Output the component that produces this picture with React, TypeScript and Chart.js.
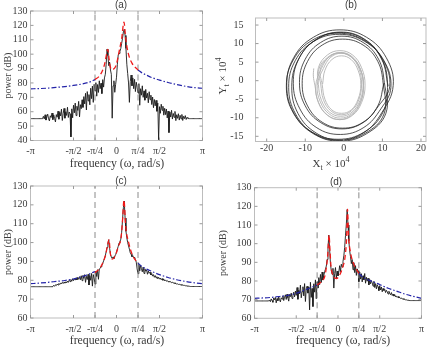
import React, { useEffect, useRef } from "react";
import { Chart, registerables } from "chart.js";
Chart.register(...registerables);

const W = 429;
const H = 347;
const SERIF = "'Liberation Serif', 'Times New Roman', serif";
const SANS = "'Liberation Sans', Arial, sans-serif";
const TEXT = "#3c3c3c";

// ---------- axis ticks ----------
const freqTicks = [-1, -0.5, -0.25, 0, 0.25, 0.5, 1]; // in units of pi
const freqTickLabels = ["-π", "-π/2", "-π/4", "0", "π/4", "π/2", "π"];
const powerTicksA = [40, 50, 60, 70, 80, 90, 100, 110, 120, 130];
const powerTicksCD = [60, 70, 80, 90, 100, 110, 120, 130];
const orbitXTicks = [-20, -10, 0, 10, 20];
const orbitYTicks = [-15, -10, -5, 0, 5, 10, 15];
const cutoffFreqs = [-0.25, 0.25];

// sample frequencies of the periodograms (units of pi), step 0.01
const freqGrid: number[] = Array.from({ length: 201 }, (_, i) => Math.round(-100 + i) / 100);

// ---------- panel (a) ----------
const powerA = [
  55.2, 55.2, 55.2, 55.2, 55.2, 55.2, 55.2, 55.2, 55.2, 55.2, 55.2, 55.2, 55.2, 55.2, 55.2,
  56.8, 55.0, 57.9, 54.2, 56.5, 58.3, 55.1, 53.6, 57.2, 56.0, 59.1, 54.5, 57.8, 55.3, 52.9, 58.0,
  56.2, 60.4, 54.8, 59.6, 57.1, 61.8, 53.9, 58.7, 62.3, 55.5, 60.0, 57.4, 63.1, 56.0, 59.8,
  58.5, 42.5, 62.0, 55.8, 64.5, 59.2, 66.0, 57.3, 63.8, 60.9, 67.2, 56.4, 64.9, 62.1, 68.3,
  63.0, 70.5, 65.4, 72.8, 61.2, 74.0, 67.5, 71.9, 64.8, 76.3, 69.1, 77.8, 66.5, 79.0,
  74.5, 80.2, 70.8, 78.9, 73.4, 81.5, 76.0, 79.8, 72.6, 82.3, 77.1,
  83.5, 86.0, 93.0, 103.5, 99.0, 92.0, 94.5, 89.0, 86.0, 55.5, 78.0, 81.5, 73.5, 79.0,
  84.0,
  93.0, 99.5, 100.5, 102.0, 104.0, 107.5, 111.0, 115.5, 117.3, 113.0, 104.0, 93.0, 86.5, 80.0, 66.5,
  81.0, 85.5, 78.0, 83.5, 76.0, 82.5, 74.0, 80.5, 77.0, 73.0,
  79.5, 64.5, 76.0, 71.5, 78.0, 70.0, 74.5, 68.0, 75.5, 69.5, 72.8, 66.2, 73.9, 68.4, 71.5,
  65.0, 70.2, 62.8, 68.5, 64.1, 67.9, 60.3, 66.0, 40.5, 63.5, 58.9, 65.2, 61.0, 63.8, 57.6,
  62.4, 58.0, 61.9, 55.7, 60.5, 45.5, 59.8, 56.3, 61.0, 54.9, 58.8, 56.1, 60.2, 53.8, 57.9,
  55.4, 58.6, 54.2, 57.5, 55.0, 58.1, 53.9, 56.8, 55.2, 57.3, 54.6, 56.0, 55.4,
  55.2, 55.2, 55.2, 55.2, 55.2, 55.2, 55.2, 55.2, 55.2, 55.2, 55.2, 55.2, 55.2, 55.2, 55.2, 55.2, 55.2,
];
const blueFreq = [-1, -0.9, -0.8, -0.7, -0.6, -0.5, -0.4, -0.35, -0.3, -0.25, 0, 0.25, 0.3, 0.35, 0.4, 0.5, 0.6, 0.7, 0.8, 0.9, 1];
const bluePowerA = [75.9, 76.1, 76.4, 76.9, 77.5, 78.3, 79.3, 80.0, 80.9, 82.3, null, 89.0, 86.9, 85.4, 84.0, 82.0, 80.3, 78.9, 77.7, 76.8, 76.3];
const redFreqA = [-0.25, -0.2, -0.16, -0.135, -0.118, -0.102, -0.087, -0.072, -0.05, -0.02, 0.0, 0.03, 0.06, 0.087, 0.107, 0.137, 0.18, 0.25];
const redPowerA = [82.3, 84.8, 89.0, 94.0, 99.3, 103.3, 97.0, 91.2, 89.3, 90.5, 93.2, 101.8, 110.9, 122.3, 110.9, 100.5, 93.8, 89.0];

// ---------- panel (c) ----------
const powerC = [
  76.6, 76.6, 76.6, 76.6, 76.6, 76.6, 76.6, 76.6, 76.6, 76.6, 76.6, 76.6, 76.6, 76.6, 76.6, 76.6, 76.6, 76.6, 76.6, 76.6, 76.6, 76.6, 76.6, 76.6, 76.6, 76.6,
  76.9, 77.3, 76.8, 77.6, 77.2, 78.0, 77.5, 78.3, 77.8, 78.6, 78.1, 78.9, 78.3, 79.0, 78.5,
  79.2, 78.6, 79.6, 78.9, 80.0, 79.3, 80.4, 79.5, 80.8, 79.8, 81.0, 80.1, 81.3, 80.2, 81.6,
  80.5, 81.9, 80.3, 82.4, 79.8, 82.6, 81.0, 83.0, 78.9, 82.1, 80.4, 83.2, 77.5, 82.5, 80.0,
  83.6, 76.9, 83.0, 81.2, 78.0, 84.8, 82.0, 85.6, 80.5, 86.0,
  86.3, 87.2, 88.0, 88.9, 90.3, 91.6, 93.0, 95.2, 97.4, 99.6, 101.5, 97.0, 93.8, 92.3, 91.6, 92.4, 91.5, 92.8, 93.6, 95.0,
  96.5, 98.0, 99.8, 100.5, 101.8, 105.5, 112.0, 118.5, 122.0, 113.0, 106.0, 102.5, 100.0, 98.2, 96.5, 94.6, 93.8, 92.5, 93.0, 91.8, 92.3, 91.0, 89.6, 86.0, 83.5,
  88.6, 85.0, 87.9, 86.2, 84.5, 87.0, 83.6, 86.1, 84.8, 85.5, 83.2, 84.9, 83.7, 84.3, 82.8,
  83.5, 82.2, 83.0, 81.6, 82.5, 81.3, 81.9, 80.8, 81.6, 80.6, 81.2, 80.3, 80.9, 80.0, 80.6,
  79.7, 80.2, 79.5, 79.9, 79.2, 79.6, 79.0, 79.3, 78.7, 79.0, 78.5, 78.7, 78.2, 78.4, 78.0,
  78.1, 77.8, 77.9, 77.6, 77.7, 77.4, 77.5, 77.3, 77.3, 77.1, 77.1, 77.0, 76.9, 76.9, 76.8,
  76.7, 76.7, 76.7, 76.7, 76.7, 76.7, 76.7, 76.7, 76.7, 76.7, 76.7, 76.7, 76.7, 76.7, 76.7,
];
const bluePowerC = [78.2, 78.5, 78.9, 79.4, 79.9, 80.7, 81.9, 82.7, 83.6, 84.7, null, 89.1, 87.2, 85.9, 84.9, 83.0, 81.5, 80.3, 79.4, 78.7, 78.2];
const redFreqC = [-0.25, -0.192, -0.153, -0.126, -0.103, -0.087, -0.072, -0.049, -0.01, 0.021, 0.052, 0.068, 0.087, 0.107, 0.138, 0.184, 0.25];
const redPowerC = [84.0, 86.5, 90.0, 93.5, 98.8, 101.5, 94.4, 91.2, 93.5, 97.9, 102.3, 110.3, 122.5, 108.5, 100.6, 93.5, 89.0];

// ---------- panel (d) ----------
const powerD = [
  69.3, 69.3, 69.3, 69.3, 69.3, 69.3, 69.3, 69.3, 69.3, 69.3, 69.3, 69.3, 69.3, 69.3, 69.3, 69.3, 69.3, 69.3,
  69.8, 68.9, 70.4, 69.5, 68.6, 70.9, 69.9, 71.2, 68.3, 70.6, 69.4, 71.5, 70.0, 68.8, 71.0,
  70.3, 72.0, 69.5, 71.3, 72.6, 70.1, 73.0, 71.0, 69.2, 72.8, 71.6, 73.5, 70.6, 72.2, 74.0,
  71.5, 74.6, 72.3, 76.5, 70.2, 75.0, 73.1, 77.8, 71.0, 74.3, 76.9, 72.0, 78.6, 69.0, 75.8,
  77.2, 73.5, 76.8, 64.5, 79.3, 71.2, 76.0, 66.3, 78.5, 74.0, 80.6, 70.5, 79.6,
  76.2, 81.8, 78.0, 83.5, 79.2, 84.8, 80.5, 82.9, 85.0, 86.3,
  88.0, 91.5, 97.5, 104.6, 97.0, 89.0, 85.5,
  83.6, 86.8, 76.2, 84.0, 87.2, 81.5, 85.3, 82.7,
  84.8, 88.2, 85.0, 89.0, 87.5, 90.5, 93.5, 98.0, 104.5, 110.5, 118.3,
  110.0, 101.5, 96.2, 93.0, 89.3, 91.5, 86.0, 89.8, 84.5, 88.2, 83.0, 86.5, 85.5, 79.6,
  84.8, 81.0, 83.9, 79.5, 82.8, 80.6, 84.0, 78.8, 82.0, 79.9, 81.5, 77.9, 80.8, 78.5, 80.2,
  79.0, 77.2, 79.8, 76.5, 78.6, 75.8, 78.0, 76.9, 74.8, 77.5, 75.2, 76.8, 74.2, 76.0, 74.9,
  75.5, 73.8, 75.0, 74.2, 73.0, 74.5, 73.3, 72.6, 73.8, 72.2, 73.0, 71.9, 72.6, 71.5, 72.0,
  71.2, 71.7, 70.9, 71.2, 70.6, 70.9, 70.3, 70.5, 70.1, 70.2, 69.9, 69.9, 69.7, 69.7, 69.6,
  69.5, 69.5, 69.5, 69.5, 69.5, 69.5, 69.5, 69.5, 69.5, 69.5, 69.5, 69.5, 69.5, 69.5, 69.5,
];
const bluePowerD = [70.7, 70.9, 71.2, 71.7, 72.3, 73.4, 75.1, 76.0, 76.9, 77.8, null, 84.1, 82.0, 80.8, 79.9, 78.1, 76.1, 74.6, 73.0, 71.8, 70.7];
const redFreqD = [-0.25, -0.2, -0.16, -0.138, -0.122, -0.107, -0.095, -0.083, -0.06, -0.019, 0.019, 0.058, 0.085, 0.104, 0.114, 0.126, 0.148, 0.194, 0.25];
const redPowerD = [77.8, 79.6, 82.3, 87.6, 94.5, 104.6, 95.5, 87.6, 83.1, 81.3, 83.1, 87.6, 93.0, 104.0, 118.5, 104.5, 95.7, 88.5, 84.1];

// ---------- panel (b): orbits (units of 1e4) ----------
const orbitBlackX = [
  11.5, 9.8, 5.3, -1.0, -7.3, -11.8, -13.5, -11.9, -7.2, -1.0, 5.2, 9.8,
  12.8, 11.0, 5.9, -1.0, -7.9, -13.0, -14.8, -12.9, -7.9, -1.0, 5.9, 10.9,
  10.5, 9.0, 5.0, -0.5, -6.0, -10.0, -11.5, -10.0, -6.0, -0.5, 5.0, 9.0,
  11.9, 10.1, 5.2, -1.5, -8.2, -13.1, -14.9, -13.1, -8.2, -1.5, 5.2, 10.1,
  11.3, 9.7, 5.2, -0.9, -7.0, -11.5, -13.1, -11.4, -7.0, -0.9, 5.2, 9.6,
  12.2, 10.4, 5.4, -1.2, -7.8, -12.6, -14.3, -12.5, -7.8, -1.2, 5.5, 10.4,
  10.2, 8.8, 5.0, -0.3, -5.6, -9.4, -10.8, -9.4, -5.6, -0.3, 5.0, 8.8, 10.4,
];
const orbitBlackY = [
  -1.5, 5.8, 11.1, 13.0, 11.0, 5.7, -1.5, -8.8, -14.1, -16.0, -14.0, -8.7,
  -1.3, 6.2, 11.7, 13.7, 11.7, 6.2, -1.3, -8.8, -14.3, -16.3, -14.3, -8.8,
  -0.5, 5.8, 10.3, 12.0, 10.3, 5.8, -0.5, -6.8, -11.3, -13.0, -11.3, -6.8,
  -1.5, 5.7, 10.9, 12.8, 10.9, 5.6, -1.5, -8.7, -13.9, -15.8, -13.9, -8.6,
  -0.7, 6.2, 11.3, 13.1, 11.2, 6.2, -0.7, -7.6, -12.7, -14.5, -12.6, -7.6,
  -1.8, 5.4, 10.6, 12.5, 10.6, 5.4, -1.8, -9.0, -14.2, -16.1, -14.2, -9.0,
  -0.8, 5.2, 9.6, 11.2, 9.6, 5.2, -0.8, -6.8, -11.2, -12.8, -11.2, -6.8, -0.6,
];
const orbitGrayX = [
  -7.8, -7.9,
  -7.5, -6.6, -4.3, -1.0, 2.3, 4.6, 5.5, 4.6, 2.3, -1.0, -4.3, -6.6,
  -6.6, -5.8, -3.7, -0.8, 2.1, 4.2, 5.0, 4.2, 2.1, -0.8, -3.7, -5.8,
  -7.3, -6.5, -4.2, -1.1, 2.0, 4.3, 5.1, 4.3, 2.0, -1.1, -4.2, -6.5,
  -6.0, -5.3, -3.4, -0.7, 2.0, 3.9, 4.6, 3.9, 2.0, -0.7, -3.4, -5.3,
  -6.9, -6.1, -3.9, -0.9, 2.1, 4.3, 5.1, 4.3, 2.1, -0.9, -3.9, -6.1,
  -5.6, -4.9, -3.1, -0.6, 1.9, 3.7, 4.4, 3.7, 1.9, -0.6, -3.1, -4.9, -5.5,
];
const orbitGrayY = [
  3.3, 1.2,
  -1.2, -5.9, -9.3, -10.5, -9.3, -5.9, -1.2, 3.5, 6.9, 8.1, 6.9, 3.5,
  -1.0, -5.3, -8.5, -9.6, -8.5, -5.3, -1.0, 3.3, 6.5, 7.6, 6.5, 3.3,
  -1.5, -6.0, -9.3, -10.5, -9.3, -6.0, -1.5, 3.0, 6.3, 7.5, 6.3, 3.0,
  -0.9, -5.1, -8.1, -9.2, -8.1, -5.1, -0.9, 3.3, 6.3, 7.4, 6.3, 3.3,
  -1.3, -5.7, -8.9, -10.1, -8.9, -5.7, -1.3, 3.1, 6.3, 7.5, 6.3, 3.1,
  -1.1, -5.0, -7.9, -8.8, -7.9, -5.0, -1.1, 2.8, 5.7, 6.7, 5.7, 2.8, -0.9,
];

// ---------- helpers ----------
type Area = { l: number; r: number; t: number; b: number };
const zip = (xs: number[], ys: (number | null)[]) => xs.map((x, i) => ({ x, y: ys[i] }));

const boxPlugin = {
  id: "matlabBox",
  afterDatasetsDraw(chart: any) {
    const { ctx, chartArea: a, scales } = chart;
    ctx.save();
    ctx.strokeStyle = "#bdbdbd";
    ctx.lineWidth = 1;
    ctx.strokeRect(a.left, a.top, a.right - a.left, a.bottom - a.top);
    ctx.strokeStyle = "#9a9a9a";
    ctx.beginPath();
    scales.x.ticks.forEach((t: any) => {
      const p = scales.x.getPixelForValue(t.value);
      ctx.moveTo(p, a.bottom); ctx.lineTo(p, a.bottom - 3);
      ctx.moveTo(p, a.top); ctx.lineTo(p, a.top + 3);
    });
    scales.y.ticks.forEach((t: any) => {
      const p = scales.y.getPixelForValue(t.value);
      ctx.moveTo(a.left, p); ctx.lineTo(a.left + 3, p);
      ctx.moveTo(a.right, p); ctx.lineTo(a.right - 3, p);
    });
    ctx.stroke();
    ctx.restore();
  },
};

function textPlugin(draw: (ctx: CanvasRenderingContext2D) => void) {
  return {
    id: "panelTexts",
    afterDraw(chart: any) {
      const ctx = chart.ctx as CanvasRenderingContext2D;
      ctx.save();
      draw(ctx);
      ctx.restore();
    },
  };
}

function label(ctx: CanvasRenderingContext2D, text: string, x: number, y: number, font: string, rot = 0) {
  ctx.save();
  ctx.translate(x, y);
  ctx.rotate(rot);
  ctx.font = font;
  ctx.fillStyle = TEXT;
  ctx.textAlign = "center";
  ctx.textBaseline = "middle";
  ctx.fillText(text, 0, 0);
  ctx.restore();
}

type Part = { t: string; size: number; dy: number };
function richLabel(ctx: CanvasRenderingContext2D, parts: Part[], x: number, y: number, rot = 0) {
  ctx.save();
  ctx.translate(x, y);
  ctx.rotate(rot);
  ctx.fillStyle = TEXT;
  ctx.textAlign = "left";
  ctx.textBaseline = "alphabetic";
  let total = 0;
  const widths = parts.map((p) => {
    ctx.font = `${p.size}px ${SERIF}`;
    const w = ctx.measureText(p.t).width;
    total += w;
    return w;
  });
  let cx = -total / 2;
  parts.forEach((p, i) => {
    ctx.font = `${p.size}px ${SERIF}`;
    ctx.fillText(p.t, cx, 4 + p.dy);
    cx += widths[i];
  });
  ctx.restore();
}

// The scale box spans from the canvas edge to the plot edge, so labels are not clipped.
function axisCommon(area: Area, horizontal: boolean, ticks: number[], labels: string[] | null, min: number, max: number, pad: number) {
  return {
    type: "linear",
    min,
    max,
    grid: { display: false, drawTicks: false },
    border: { display: false },
    afterFit: (s: any) => {
      if (horizontal) s.height = H - area.b;
      else s.width = area.l;
    },
    afterBuildTicks: (s: any) => {
      s.ticks = ticks.map((v) => ({ value: v }));
    },
    ticks: {
      autoSkip: false,
      maxRotation: 0,
      minRotation: 0,
      padding: pad,
      color: TEXT,
      font: { family: SERIF, size: 10 },
      callback: (v: number) => {
        if (labels) {
          const i = ticks.findIndex((t) => Math.abs(t - v) < 1e-9);
          return i >= 0 ? labels[i] : "";
        }
        return String(v);
      },
    },
  };
}

function baseOptions(area: Area) {
  return {
    responsive: false,
    animation: false,
    devicePixelRatio: 1,
    events: [],
    layout: { padding: { left: 0, right: W - area.r, top: area.t, bottom: 0 } },
    plugins: { legend: { display: false }, tooltip: { enabled: false }, title: { display: false } },
  };
}

function spectrumConfig(
  area: Area,
  yTicks: number[],
  black: number[],
  blue: (number | null)[],
  redX: number[],
  redY: number[],
  ymin: number,
  ymax: number,
  texts: (ctx: CanvasRenderingContext2D) => void
) {
  const cutoffSets = cutoffFreqs.map((f) => ({
    data: [{ x: f, y: ymin }, { x: f, y: ymax }],
    showLine: true,
    borderColor: "#8a8a8a",
    borderWidth: 1,
    borderDash: [6, 4],
    pointRadius: 0,
    order: 2,
  }));
  return {
    type: "scatter",
    data: {
      datasets: [
        {
          data: zip(redX, redY),
          showLine: true,
          borderColor: "#f01818",
          borderWidth: 1.3,
          borderDash: [5, 3],
          pointRadius: 0,
          cubicInterpolationMode: "monotone",
          order: 0,
        },
        {
          data: zip(blueFreq, blue),
          showLine: true,
          spanGaps: false,
          borderColor: "#2424a8",
          borderWidth: 1.2,
          borderDash: [5, 2, 1.5, 2],
          pointRadius: 0,
          cubicInterpolationMode: "monotone",
          order: 1,
        },
        ...cutoffSets,
        {
          data: zip(freqGrid, black),
          showLine: true,
          borderColor: "#1b1b1b",
          borderWidth: 0.9,
          pointRadius: 0,
          tension: 0,
          order: 3,
        },
      ],
    },
    options: {
      ...baseOptions(area),
      scales: {
        x: axisCommon(area, true, freqTicks, freqTickLabels, -1, 1, 5),
        y: axisCommon(area, false, yTicks, null, ymin, ymax, 3),
      },
    },
    plugins: [boxPlugin, textPlugin(texts)],
  };
}

const areaA: Area = { l: 30.5, r: 202.5, t: 11, b: 140.5 };
const areaB: Area = { l: 255.5, r: 426, t: 11, b: 141.5 };
const areaC: Area = { l: 30.5, r: 202.5, t: 186, b: 318 };
const areaD: Area = { l: 254.5, r: 426.5, t: 187.7, b: 318.3 };

const YLABEL_FONT = `10px ${SERIF}`;
const XLABEL_FONT = `11.8px ${SERIF}`;
const TITLE_FONT = `10px ${SANS}`;
const FREQ_LABEL = "frequency (ω, rad/s)";
const POWER_LABEL = "power (dB)";

function buildConfigs() {
  const a = spectrumConfig(areaA, powerTicksA, powerA, bluePowerA, redFreqA, redPowerA, 40, 130, (ctx) => {
    label(ctx, "(a)", 121, 5, TITLE_FONT);
    label(ctx, POWER_LABEL, 8, 75.5, YLABEL_FONT, -Math.PI / 2);
    label(ctx, FREQ_LABEL, 117, 164, XLABEL_FONT);
  });
  const c = spectrumConfig(areaC, powerTicksCD, powerC, bluePowerC, redFreqC, redPowerC, 60, 130, (ctx) => {
    label(ctx, "(c)", 121, 181, TITLE_FONT);
    label(ctx, POWER_LABEL, 8, 252, YLABEL_FONT, -Math.PI / 2);
    label(ctx, FREQ_LABEL, 117, 341, XLABEL_FONT);
  });
  const d = spectrumConfig(areaD, powerTicksCD, powerD, bluePowerD, redFreqD, redPowerD, 60, 130, (ctx) => {
    label(ctx, "(d)", 336, 182, TITLE_FONT);
    label(ctx, POWER_LABEL, 223, 253, YLABEL_FONT, -Math.PI / 2);
    label(ctx, FREQ_LABEL, 343, 341, XLABEL_FONT);
  });
  const b = {
    type: "scatter",
    data: {
      datasets: [
        {
          data: zip(orbitGrayX, orbitGrayY),
          showLine: true,
          borderColor: "#b3b3b3",
          borderWidth: 0.9,
          pointRadius: 0,
          tension: 0.4,
        },
        {
          data: zip(orbitBlackX, orbitBlackY),
          showLine: true,
          borderColor: "#262626",
          borderWidth: 0.8,
          pointRadius: 0,
          tension: 0.4,
        },
      ],
    },
    options: {
      ...baseOptions(areaB),
      scales: {
        x: axisCommon(areaB, true, orbitXTicks, null, -22.9, 21.3, 1),
        y: axisCommon(areaB, false, orbitYTicks, null, -16.4, 16.9, 12),
      },
    },
    plugins: [
      boxPlugin,
      textPlugin((ctx) => {
        label(ctx, "(b)", 351, 5, TITLE_FONT);
        const parts = (v: string): Part[] => [
          { t: v, size: 11, dy: 0 },
          { t: "t", size: 8, dy: 3 },
          { t: " × 10", size: 11, dy: 0 },
          { t: "4", size: 8, dy: -5 },
        ];
        richLabel(ctx, parts("Y"), 222, 76, -Math.PI / 2);
        richLabel(ctx, parts("X"), 331, 163);
      }),
    ],
  };
  return [a, b, c, d];
}

export default function App() {
  const canvases = useRef<(HTMLCanvasElement | null)[]>([]);
  useEffect(() => {
    const configs = buildConfigs();
    const charts = configs.map((cfg, i) => new Chart(canvases.current[i] as HTMLCanvasElement, cfg as any));
    return () => charts.forEach((c) => c.destroy());
  }, []);
  return (
    <div style={{ position: "absolute", left: 0, top: 0, width: W, height: H, background: "#ffffff", overflow: "hidden" }}>
      {[0, 1, 2, 3].map((i) => (
        <canvas
          key={i}
          ref={(el) => {
            canvases.current[i] = el;
          }}
          width={W}
          height={H}
          style={{ position: "absolute", left: 0, top: 0, width: W, height: H }}
        />
      ))}
    </div>
  );
}
